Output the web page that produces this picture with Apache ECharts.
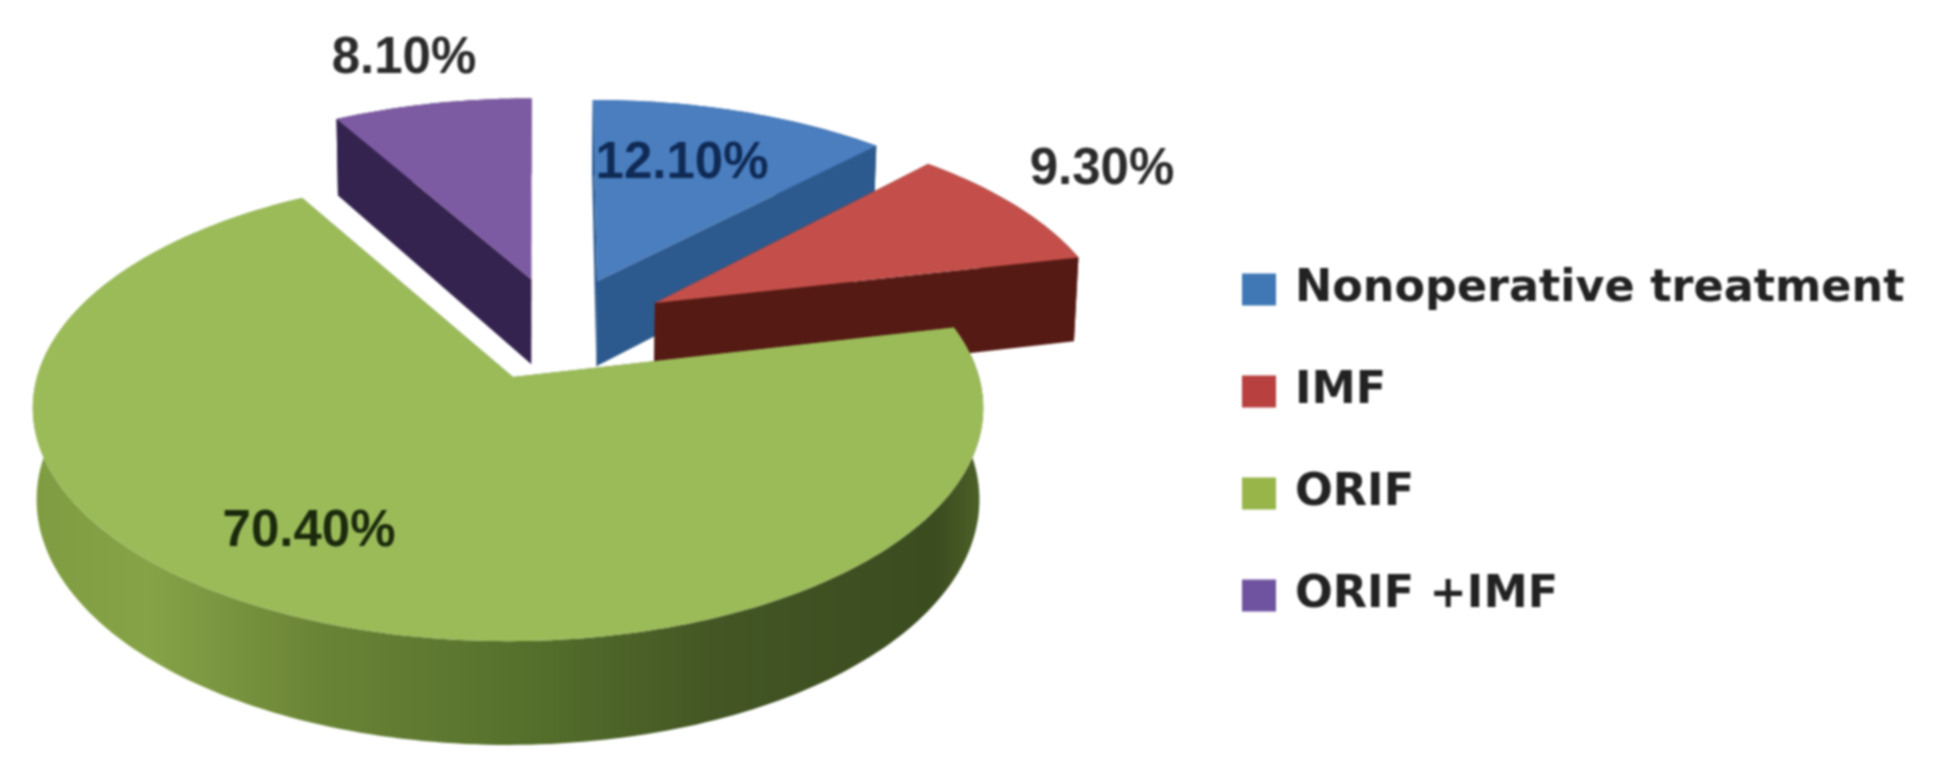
<!DOCTYPE html>
<html>
<head>
<meta charset="utf-8">
<style>
html,body{margin:0;padding:0;background:#fff}
#main{width:1938px;height:775px;filter:blur(1.1px)}
</style>
<script src="https://cdn.jsdelivr.net/npm/echarts@6/dist/echarts.min.js"></script>
</head>
<body>
<div id="main"></div>
<script>
const categories = ['Nonoperative treatment', 'IMF', 'ORIF', 'ORIF +IMF'];
const values = [12.1, 9.3, 70.4, 8.1];
const valueLabels = ['12.10%', '9.30%', '70.40%', '8.10%'];

const topColors = ['#4a7ebf', '#c44f4a', '#9bbb59', '#7d5ba3'];
const wallColors = ['#2d5a8e', '#561a14', '#5f7a30', '#35234f'];
const legendColors = ['#3f78b5', '#b8403f', '#97b548', '#6f53a0'];
const labelAnchors = [[682, 164], [1102, 170], [309, 532], [404, 59]];
const arcShift = [6, 4, -5, 4];
const apexShift = [1, 4, 0, 2];
const drawOrder = [3, 0, 1, 2];

const view = { cx: 513, cy: 377, rx: 471, ry: 229, persp: 0.133, depth: 90, explode: 0.24, narrow: 0.008 };

const total = values.reduce((a, b) => a + b, 0);
const starts = [];
values.reduce((acc, v, i) => { starts[i] = acc; return acc + v; }, 0);
const toRad = v => v / total * Math.PI * 2;
const midAngle = i => toRad(starts[i] + values[i] / 2);
const anchorIndex = values.indexOf(Math.max(...values));

function project(p, drop) {
  const gx = p[0], gz = p[1], shift = p[2];
  const s = 1 / (1 + view.persp * gz);
  const k = drop ? 1 - view.narrow : 1;
  return [
    view.cx + shift + view.rx * gx * s * k,
    view.cy - view.ry * gz * s + (drop ? view.depth * s : 0)
  ];
}

function sliceGeometry(i, value) {
  const a0 = toRad(starts[i]);
  const a1 = a0 + toRad(value);
  const ox = view.explode * (Math.sin(midAngle(i)) - Math.sin(midAngle(anchorIndex)));
  const oz = view.explode * (Math.cos(midAngle(i)) - Math.cos(midAngle(anchorIndex)));
  const n = Math.max(8, Math.ceil((a1 - a0) / 0.02));
  const arc = [];
  for (let k = 0; k <= n; k++) {
    const t = a0 + (a1 - a0) * k / n;
    arc.push([ox + Math.sin(t), oz + Math.cos(t), arcShift[i]]);
  }
  return { apex: [ox, oz, apexShift[i]], arc };
}

function wall(path, color) {
  const upper = path.map(p => project(p, false));
  const lower = path.map(p => project(p, true)).reverse();
  return { type: 'polygon', shape: { points: upper.concat(lower) }, style: { fill: color } };
}

function makeRenderer(i) {
  return function (params, api) {
    const g = sliceGeometry(i, api.value(0));
    const first = g.arc[0];
    const last = g.arc[g.arc.length - 1];
    const outerFill = i === anchorIndex
      ? new echarts.graphic.LinearGradient(0, 0, 1, 0, [
          { offset: 0, color: '#7f9c42' },
          { offset: 0.12, color: '#86a347' },
          { offset: 0.3, color: '#6a8436' },
          { offset: 0.52, color: '#55702c' },
          { offset: 0.72, color: '#435624' },
          { offset: 0.95, color: '#3b4c1f' },
          { offset: 1, color: '#4d6228' }
        ])
      : wallColors[i];
    const topPts = [project(g.apex, false)].concat(g.arc.map(p => project(p, false)));
    const anchor = labelAnchors[i];
    return {
      type: 'group',
      children: [
        wall([first, g.apex], wallColors[i]),
        wall([last, g.apex], wallColors[i]),
        wall(g.arc, outerFill),
        { type: 'polygon', shape: { points: topPts }, style: { fill: topColors[i] } },
        {
          type: 'text',
          style: {
            x: anchor[0], y: anchor[1],
            text: valueLabels[i],
            fill: i === 0 ? '#0f2a55' : (i === anchorIndex ? '#1b2a0d' : '#2b2b2b'),
            font: 'bold 51px "Liberation Sans", Arial, sans-serif',
            align: 'center', verticalAlign: 'middle'
          }
        }
      ]
    };
  };
}

const chart = echarts.init(document.getElementById('main'));
chart.setOption({
  animation: false,
  backgroundColor: '#ffffff',
  legend: {
    data: categories.map(name => ({ name })),
    orient: 'vertical',
    left: 1237,
    top: 262,
    icon: 'rect',
    itemWidth: 34,
    itemHeight: 32,
    itemGap: 57,
    selectedMode: false,
    textStyle: {
      fontFamily: '"DejaVu Sans", Verdana, sans-serif',
      fontWeight: 'bold',
      fontSize: 44.5,
      lineHeight: 44,
      color: '#222',
      padding: [0, 0, 0, 14]
    }
  },
  series: drawOrder.map((i, order) => ({
    type: 'custom',
    name: categories[i],
    coordinateSystem: 'none',
    z: 2 + order,
    silent: true,
    itemStyle: { color: legendColors[i] },
    data: [[values[i]]],
    renderItem: makeRenderer(i)
  }))
});
</script>
</body>
</html>
